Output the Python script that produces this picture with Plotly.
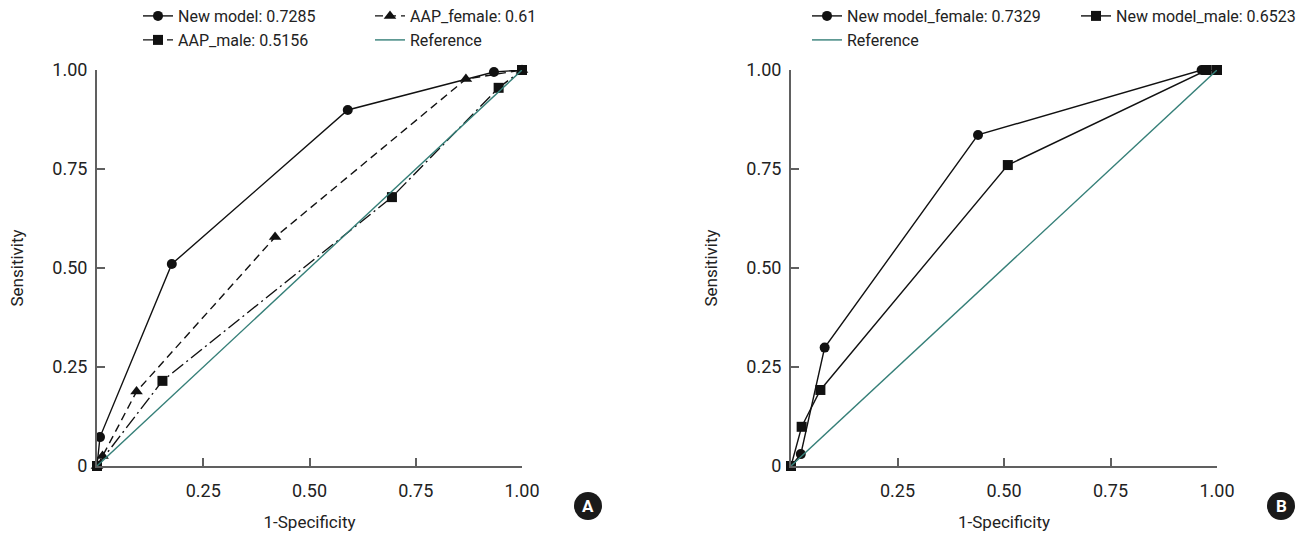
import plotly.graph_objects as go

# ---- Data ----
# Panel A
newA_x = [0, 0.007, 0.176, 0.59, 0.934, 1.0]
newA_y = [0, 0.073, 0.51, 0.899, 0.995, 1.0]
aapf_x = [0, 0.013, 0.093, 0.419, 0.868, 1.0]
aapf_y = [0, 0.025, 0.188, 0.578, 0.977, 1.0]
aapm_x = [0, 0.154, 0.694, 0.945, 1.0]
aapm_y = [0, 0.215, 0.679, 0.955, 1.0]
# Panel B
newf_x = [0, 0.023, 0.079, 0.439, 0.964, 1.0]
newf_y = [0, 0.030, 0.299, 0.836, 1.0, 1.0]
newm_x = [0, 0.025, 0.069, 0.509, 0.976, 1.0]
newm_y = [0, 0.099, 0.192, 0.760, 1.0, 1.0]
ref_x = [0, 1]
ref_y = [0, 1]

names_A = ["New model: 0.7285", "AAP_female: 0.61", "AAP_male: 0.5156", "Reference"]
names_B = ["New model_female: 0.7329", "New model_male: 0.6523", "Reference"]
tick_vals_x = [0.25, 0.5, 0.75, 1.0]
tick_text_x = ["0.25", "0.50", "0.75", "1.00"]
tick_vals_y = [0, 0.25, 0.5, 0.75, 1.0]
tick_text_y = ["0", "0.25", "0.50", "0.75", "1.00"]

FONT = "Roboto"
FS = 16
TFS = 18
BLACK = "#111111"
TEAL = "#357f78"
AXIS = "#606060"
TXT = "#222222"

W, H = 1296, 536
PL, PR, PT, PB = 97, 1217, 70, 466   # plotting region (pixels)
PW, PH = PR - PL, PB - PT

def px(x):
    return (x - PL) / PW

def py(y):
    return (PB - y) / PH

fig = go.Figure()

def add(x, y, name, xa, ya, legend, dash="solid", symbol=None, msize=9, color=BLACK, width=1.4):
    mode = "lines+markers" if symbol else "lines"
    fig.add_trace(go.Scatter(
        x=x, y=y, name=name, mode=mode, xaxis=xa, yaxis=ya, legend=legend,
        line=dict(color=color, width=width, dash=dash),
        marker=dict(symbol=symbol, size=msize, color=BLACK) if symbol else None,
        cliponaxis=False, hoverinfo="skip",
    ))

add(newA_x, newA_y, names_A[0], "x", "y", "legend", "solid", "circle", 10)
add(aapf_x, aapf_y, names_A[1], "x", "y", "legend2", "8px,5px", "triangle-up", 11)
add(aapm_x, aapm_y, names_A[2], "x", "y", "legend3", "14px,4px,2px,4px", "square", 10)
add(ref_x, ref_y, names_A[3], "x", "y", "legend4", "solid", None, 0, TEAL, 1.4)

add(newf_x, newf_y, names_B[0], "x2", "y2", "legend5", "solid", "circle", 10)
add(newm_x, newm_y, names_B[1], "x2", "y2", "legend6", "solid", "square", 10)
add(ref_x, ref_y, names_B[2], "x2", "y2", "legend7", "solid", None, 0, TEAL, 1.4)

def xaxis(dom, anchor):
    return dict(domain=dom, range=[0, 1], tickvals=tick_vals_x, ticktext=tick_text_x, anchor=anchor,
                showgrid=False, zeroline=False, showline=True, linecolor=AXIS, linewidth=2,
                ticks="inside", ticklen=8, tickcolor=AXIS, tickwidth=1.5,
                ticklabelstandoff=7, fixedrange=True,
                tickfont=dict(family=FONT, size=TFS, color=TXT),
                title=dict(text="1-Specificity", font=dict(family=FONT, size=17, color=TXT), standoff=17))

def yaxis(anchor):
    return dict(domain=[0, 1], range=[0, 1], tickvals=tick_vals_y, ticktext=tick_text_y, anchor=anchor,
                showgrid=False, zeroline=False, showline=True, linecolor=AXIS, linewidth=2,
                ticks="inside", ticklen=8, tickcolor=AXIS, tickwidth=1.5,
                ticklabelstandoff=4, fixedrange=True,
                tickfont=dict(family=FONT, size=TFS, color=TXT),
                title=dict(text="Sensitivity", font=dict(family=FONT, size=17, color=TXT), standoff=24))

leg_common = dict(orientation="h", xanchor="left", yanchor="middle", bgcolor="rgba(0,0,0,0)",
                  font=dict(family=FONT, size=FS, color=TXT), itemwidth=30, itemclick=False,
                  itemdoubleclick=False)

row1, row2 = 16, 40
fig.update_layout(
    width=W, height=H, margin=dict(l=PL, r=W - PR, t=PT, b=H - PB, autoexpand=False),
    paper_bgcolor="white", plot_bgcolor="white", hovermode=False,
    xaxis=xaxis([0, px(522)], "y"), yaxis=yaxis("x"),
    xaxis2=xaxis([px(791), 1], "y2"), yaxis2=yaxis("x2"),
    legend=dict(**leg_common, x=px(138), y=py(row1)),
    legend2=dict(**leg_common, x=px(370), y=py(row1)),
    legend3=dict(**leg_common, x=px(138), y=py(row2)),
    legend4=dict(**leg_common, x=px(370), y=py(row2)),
    legend5=dict(**leg_common, x=px(807), y=py(row1)),
    legend6=dict(**leg_common, x=px(1076), y=py(row1)),
    legend7=dict(**leg_common, x=px(807), y=py(row2)),
    showlegend=True,
)

for cx, letter in [(588, "A"), (1281, "B")]:
    r = 14
    cy = 506
    fig.add_shape(type="circle", xref="paper", yref="paper",
                  x0=px(cx - r), x1=px(cx + r), y0=py(cy + r), y1=py(cy - r),
                  fillcolor="#1a1a1a", line=dict(width=0))
    fig.add_annotation(x=px(cx), y=py(cy), xref="paper", yref="paper", text=f"<b>{letter}</b>",
                       showarrow=False, font=dict(family=FONT, size=17, color="white"),
                       xanchor="center", yanchor="middle")

fig.write_html("out.html", config={"displayModeBar": False, "staticPlot": False},
               post_script="document.body.style.margin='0';document.body.style.overflow='hidden';")
